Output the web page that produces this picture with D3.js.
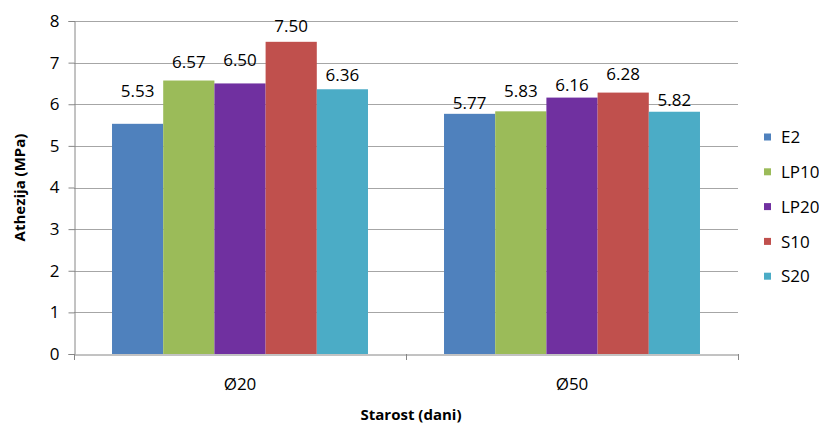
<!DOCTYPE html>
<html>
<head>
<meta charset="utf-8">
<script src="https://cdn.jsdelivr.net/npm/d3@7"></script>
<style>
  html, body { margin: 0; padding: 0; background: #fff; }
  svg text { font-family: "Open Sans", "Noto Sans", sans-serif; fill: #000; }
</style>
</head>
<body>
<svg id="chart" width="819" height="424"></svg>
<script>
// ---- data ----
const categories = ["Ø20", "Ø50"];
const seriesNames = ["E2", "LP10", "LP20", "S10", "S20"];
const E2   = [5.53, 5.77];
const LP10 = [6.57, 5.83];
const LP20 = [6.50, 6.16];
const S10  = [7.50, 6.28];
const S20  = [6.36, 5.82];
const yTicks = [0, 1, 2, 3, 4, 5, 6, 7, 8];
const yTitle = "Athezija (MPa)";
const xTitle = "Starost (dani)";

// ---- style / layout ----
const colors = ["#4F81BD", "#9BBB59", "#7030A0", "#C0504D", "#4BACC6"];
// individual label lifts (px above bar top), as placed in the original
const labelLift = [[27, 5], [13, 14], [17, 7], [10, 13], [8, 6]];

const seriesValues = [E2, LP10, LP20, S10, S20];
const svg = d3.select("#chart");
const mLeft = 74, mRight = 738, mTop = 21, mBottom = 354;
const fs = "17px";

const x0 = d3.scaleBand().domain(categories).range([mLeft, mRight])
  .paddingInner(0.229).paddingOuter(0.1145);
const x1 = d3.scaleBand().domain(seriesNames).range([0, x0.bandwidth()]);
const y = d3.scaleLinear().domain([0, 8]).range([mBottom, mTop]);

// gridlines
svg.append("g").selectAll("line").data(yTicks.filter(d => d > 0)).join("line")
  .attr("x1", mLeft).attr("x2", mRight)
  .attr("y1", d => Math.round(y(d)) + 0.5).attr("y2", d => Math.round(y(d)) + 0.5)
  .attr("stroke", "#A6A6A6").attr("stroke-width", 1);

// y axis
const yAxis = d3.axisLeft(y).tickValues(yTicks).tickSize(6).tickPadding(9).tickFormat(d3.format("d"));
const gy = svg.append("g").attr("transform", `translate(${mLeft + 0.5},0)`).call(yAxis);
gy.select(".domain").attr("stroke", "#868686");
gy.selectAll(".tick line").attr("stroke", "#868686");
gy.selectAll(".tick text").style("font-size", fs).attr("fill", "#000");

// bars
const groups = svg.append("g").selectAll("g").data(categories).join("g")
  .attr("transform", d => `translate(${x0(d)},0)`);
groups.each(function(cat, ci) {
  const g = d3.select(this);
  seriesNames.forEach((s, si) => {
    const v = seriesValues[si][ci];
    g.append("rect")
      .attr("x", x1(s)).attr("width", x1.bandwidth())
      .attr("y", y(v)).attr("height", y(0) - y(v))
      .attr("fill", colors[si]);
    g.append("text")
      .attr("x", x1(s) + x1.bandwidth() / 2)
      .attr("y", y(v) - labelLift[si][ci])
      .attr("text-anchor", "middle")
      .style("font-size", fs)
      .text(v.toFixed(2));
  });
});

// x axis
const xAxisScale = d3.scaleBand().domain(categories).range([mLeft, mRight]);
const gx = svg.append("g").attr("transform", `translate(0,${mBottom + 0.5})`)
  .call(d3.axisBottom(xAxisScale).tickSize(0).tickPadding(23));
gx.select(".domain").attr("stroke", "#868686");
gx.selectAll(".tick text").style("font-size", fs).attr("fill", "#000");
// category separator ticks
const sepTicks = [mLeft, xAxisScale(categories[1]), mRight];
svg.append("g").selectAll("line").data(sepTicks).join("line")
  .attr("x1", d => Math.round(d) + 0.5).attr("x2", d => Math.round(d) + 0.5)
  .attr("y1", mBottom).attr("y2", mBottom + 6)
  .attr("stroke", "#868686");

// axis titles
svg.append("text")
  .attr("transform", `translate(25,${(mTop + mBottom) / 2}) rotate(-90)`)
  .attr("text-anchor", "middle")
  .style("font-size", "15px").style("font-weight", "bold")
  .text(yTitle);
svg.append("text")
  .attr("x", 411).attr("y", 420)
  .attr("text-anchor", "middle")
  .style("font-size", "15px").style("font-weight", "bold")
  .text(xTitle);

// legend
const legend = svg.append("g").selectAll("g").data(seriesNames).join("g")
  .attr("transform", (d, i) => `translate(764,${137 + i * 34.8})`);
legend.append("rect").attr("x", 0).attr("y", -3.5).attr("width", 7).attr("height", 7)
  .attr("fill", (d, i) => colors[i]);
legend.append("text").attr("x", 17).attr("y", 0).attr("dy", "0.36em")
  .style("font-size", fs).text(d => d);
</script>
</body>
</html>
